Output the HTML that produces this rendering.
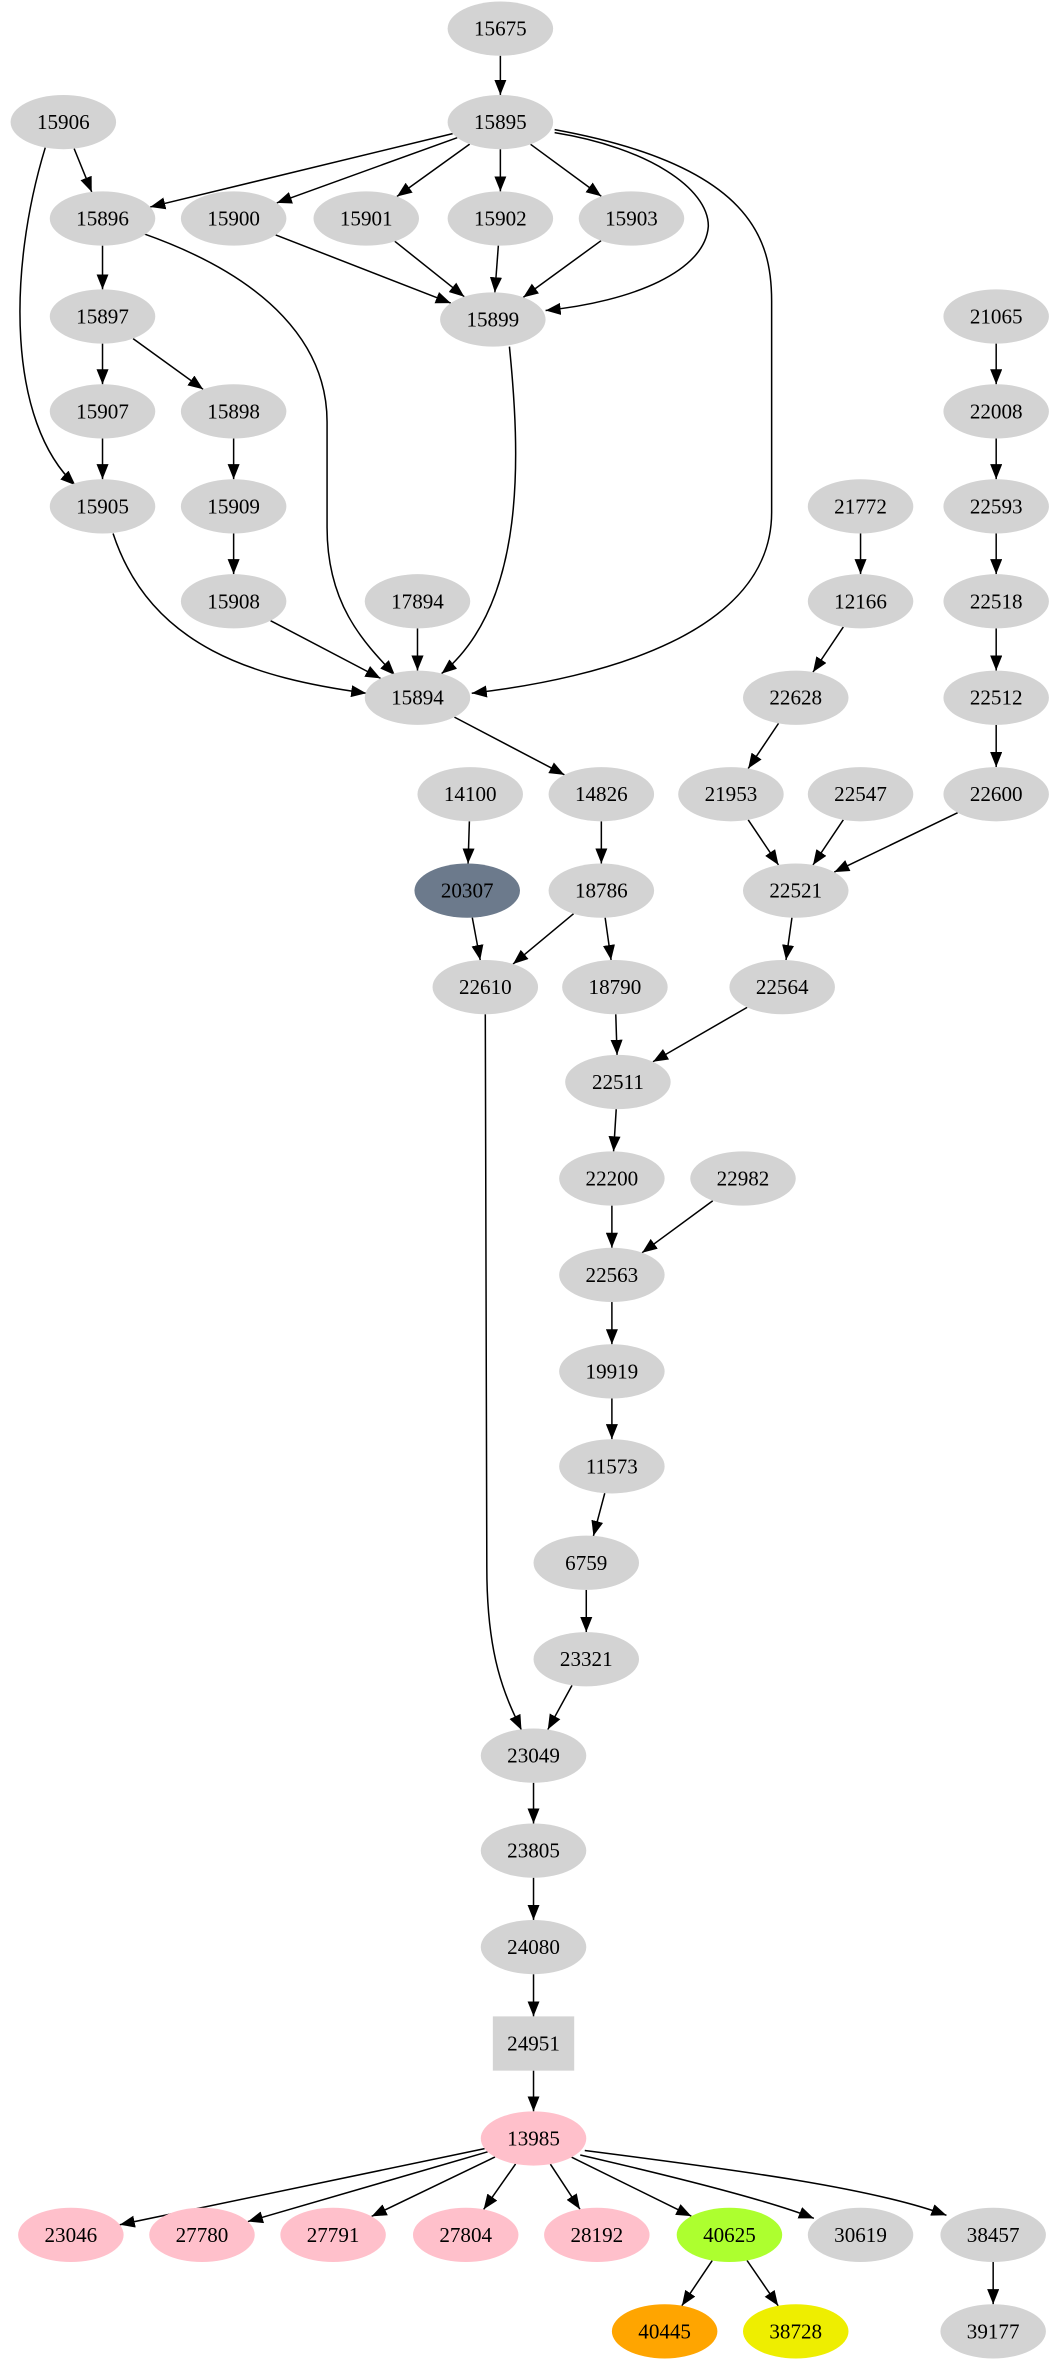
<!DOCTYPE html>
<html><head><meta charset="utf-8">
<style>
html,body{margin:0;padding:0;background:#fff;}
svg{display:block;}
text{font-family:"Liberation Serif",serif;font-size:14px;text-anchor:middle;dominant-baseline:central;}
</style></head>
<body>
<svg id="g" width="1055" height="2363" viewBox="0 0 700 1568" xmlns="http://www.w3.org/2000/svg">
<defs>
<marker id="a" markerWidth="10" markerHeight="8" refX="10" refY="4" orient="auto" markerUnits="userSpaceOnUse">
<path d="M0,0 L10,4 L0,8 z" fill="#000"/>
</marker>
</defs>
<g id="edges" fill="none" stroke="#000" stroke-width="1">
<path d="M30,98 C5,180 5,280 50,322" marker-end="url(#a)"/>
<path d="M368,88 C430,98 470,125 470,150 C468,180 420,200 362,206" marker-end="url(#a)"/>
<path d="M368,86 C500,110 512,160 512,200 L512,340 C512,420 400,450 313,460" marker-end="url(#a)"/>
<path d="M95,155 C180,185 217,230 217,280 L217,350 C217,400 240,425 262,448" marker-end="url(#a)"/>
<path d="M338,230 C345,300 350,400 293,447" marker-end="url(#a)"/>
<path d="M75,354 C100,430 170,450 243,460" marker-end="url(#a)"/>
<path d="M322,673 L323,1040 C323,1100 335,1125 346,1148" marker-end="url(#a)"/>
<path d="M388,1427 C490,1440 580,1452 628,1470" marker-end="url(#a)"/>
<path d="M385,1430 C450,1445 510,1460 540,1472" marker-end="url(#a)"/>
</g>
<g id="nodes"></g>
</svg>
<script>
var N={
"15675":[332,19],"15906":[42,81],"15895":[332,81],
"15896":[68,145],"15900":[155,145],"15901":[243,145],"15902":[332,145],"15903":[419,145],
"15897":[68,210],"15899":[327,212],"21065":[661,210],
"15907":[68,273],"15898":[155,273],"22008":[661,273],
"15905":[68,336],"15909":[155,336],"21772":[571,336],"22593":[661,336],
"15908":[155,399],"17894":[277,399],"12166":[571,399],"22518":[661,399],
"15894":[277,463],"22628":[528,463],"22512":[661,463],
"14100":[312,527],"14826":[399,527],"21953":[485,527],"22547":[571,527],"22600":[661,527],
"20307":[310,591,"#6c7a8c"],"18786":[399,591],"22521":[528,591],
"22610":[322,655],"18790":[408,655],"22564":[519,655],
"22511":[410,718],"22200":[406,782],"22982":[493,782],"22563":[406,846],
"19919":[406,910],"11573":[406,973],"6759":[389,1037],"23321":[389,1101],
"23049":[354,1165],"23805":[354,1228],"24080":[354,1292],"24951":[354,1356,"#d3d3d3","box"],
"13985":[354,1419,"#ffc0cb"],
"23046":[47,1483,"#ffc0cb"],"27780":[134,1483,"#ffc0cb"],"27791":[221,1483,"#ffc0cb"],"27804":[309,1483,"#ffc0cb"],"28192":[396,1483,"#ffc0cb"],
"40625":[484,1483,"#adff2f"],"30619":[571,1483],"38457":[659,1483],
"40445":[441,1547,"#ffa500"],"38728":[528,1547,"#eeee00"],"39177":[659,1547]
};
var E=[["15675","15895"],["15906","15896"],["15895","15896"],["15895","15900"],["15895","15901"],["15895","15902"],["15895","15903"],
["15900","15899"],["15901","15899"],["15902","15899"],["15903","15899"],["15896","15897"],["15897","15907"],["15897","15898"],
["15907","15905"],["15898","15909"],["15909","15908"],["15908","15894"],["17894","15894"],["15894","14826"],
["21065","22008"],["22008","22593"],["22593","22518"],["22518","22512"],["22512","22600"],["21772","12166"],["12166","22628"],
["22628","21953"],["21953","22521"],["22547","22521"],["22600","22521"],["22521","22564"],["14100","20307"],["14826","18786"],
["20307","22610"],["18786","22610"],["18786","18790"],["18790","22511"],["22564","22511"],["22511","22200"],["22200","22563"],
["22982","22563"],["22563","19919"],["19919","11573"],["11573","6759"],["6759","23321"],["23321","23049"],["23049","23805"],
["23805","24080"],["24080","24951"],["24951","13985"],
["13985","23046"],["13985","27780"],["13985","27791"],["13985","27804"],["13985","28192"],["13985","40625"],
["40625","40445"],["40625","38728"],["38457","39177"]];
var ns="http://www.w3.org/2000/svg",eg=document.getElementById("edges"),ng=document.getElementById("nodes");
function clip(n,dx,dy){var rx=35,ry=18;if(n[3]=="box"){var t=Math.min(27/Math.abs(dx||1e-9),18/Math.abs(dy||1e-9));return t;}
return 1/Math.sqrt((dx*dx)/(rx*rx)+(dy*dy)/(ry*ry));}
E.forEach(function(e){var a=N[e[0]],b=N[e[1]],dx=b[0]-a[0],dy=b[1]-a[1];
var t1=clip(a,dx,dy),t2=clip(b,-dx,-dy);
var l=document.createElementNS(ns,"line");
l.setAttribute("x1",a[0]+dx*t1);l.setAttribute("y1",a[1]+dy*t1);
l.setAttribute("x2",b[0]-dx*t2);l.setAttribute("y2",b[1]-dy*t2);
l.setAttribute("marker-end","url(#a)");eg.appendChild(l);});
for(var k in N){var n=N[k],s;
if(n[3]=="box"){s=document.createElementNS(ns,"rect");s.setAttribute("x",n[0]-27);s.setAttribute("y",n[1]-18);s.setAttribute("width",54);s.setAttribute("height",36);}
else{s=document.createElementNS(ns,"ellipse");s.setAttribute("cx",n[0]);s.setAttribute("cy",n[1]);s.setAttribute("rx",35);s.setAttribute("ry",18);}
s.setAttribute("fill",n[2]||"#d3d3d3");ng.appendChild(s);
var t=document.createElementNS(ns,"text");t.setAttribute("x",n[0]);t.setAttribute("y",n[1]);t.textContent=k;ng.appendChild(t);}
</script>
</body></html>
